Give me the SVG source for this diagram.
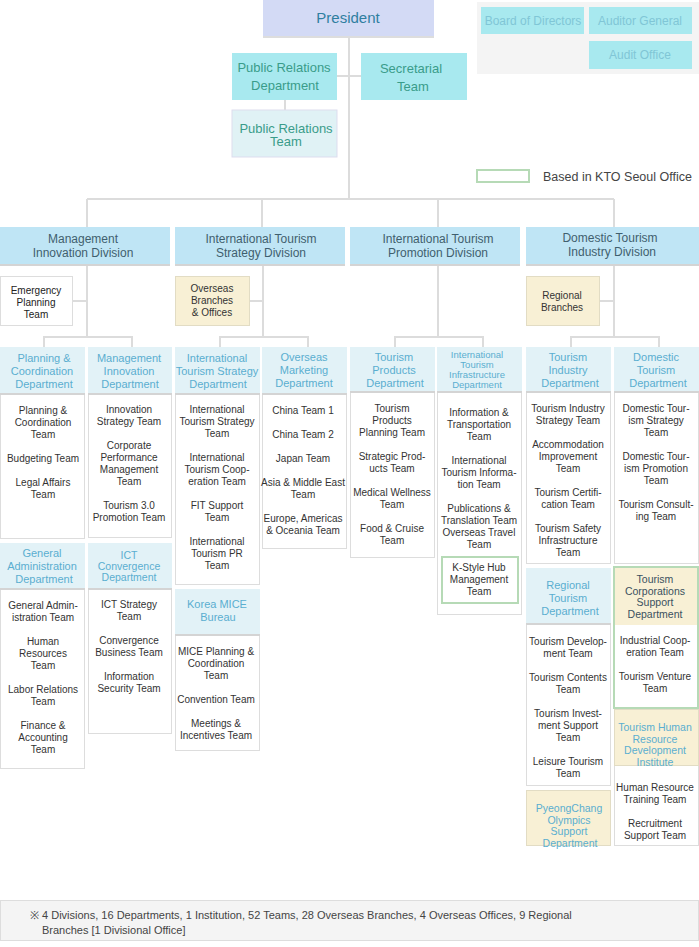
<svg xmlns="http://www.w3.org/2000/svg" width="699" height="947" viewBox="0 0 699 947">
<style>
text{font-family:"Liberation Sans",Arial,sans-serif;text-anchor:middle}
.ln{stroke:#dcdcdc;stroke-width:2;fill:none}
.hd{fill:#e2f2f7}
.bd{fill:#fff;stroke:#ddd;stroke-width:1}
.dv{fill:#bfe5f5}
.ye{fill:#f8f0d5;stroke:#e2dcc4;stroke-width:1}
.ht{font-size:11px;fill:#5aaed0}
.h4{font-size:10.5px;fill:#5aaed0}
.tt{font-size:10px;fill:#333}
.dt{font-size:12px;fill:#3f5f6e}
.cy{fill:#a8e9ef}
.ct{font-size:13px;fill:#3a9c8a}
.bt{font-size:12px;fill:#80c6d6}
.gr{fill:none;stroke:#b6dab6;stroke-width:2}
</style>
<g id="connectors">
<path class="ln" d="M349 37V199M337 76H361M285 100V110M87 199H614M87 199V227M262 199V227M438 199V227M614 199V227M640 34V41"/>
<path class="ln" d="M87 265V336M263 265V336M438 265V336M614 265V336M72 301H87M249 301H263M599 301H614"/>
<path class="ln" d="M44 347V337H132V347M220 347V337H308V347M395 347V337H483V347M571 347V337H659V347"/>
</g>
<g id="president"><rect x="263" y="0" width="171" height="37" fill="#d3daf5"/><rect x="263" y="36" width="171" height="2" fill="#ddd"/><text x="348" y="23" font-size="15" fill="#2f7fa0">President</text></g>
<g id="board-area"><rect x="477" y="2" width="222" height="72" fill="#f4f4f4"/>
<g id="board"><rect x="481" y="7" width="103" height="27" class="cy"/><text x="533" y="25" class="bt">Board of Directors</text></g>
<g id="auditor"><rect x="589" y="7" width="103" height="27" class="cy"/><text x="640" y="25" class="bt">Auditor General</text></g>
<g id="audit-office"><rect x="589" y="41" width="103" height="28" class="cy"/><text x="640" y="59" class="bt">Audit Office</text></g></g>
<g id="pr-dept"><rect x="232" y="53" width="105" height="47" class="cy"/><text x="284" y="72" class="ct">Public Relations</text><text x="285" y="90" class="ct">Department</text></g>
<g id="secretarial"><rect x="361" y="53" width="106" height="47" class="cy"/><text x="411" y="73" class="ct">Secretarial</text><text x="413" y="91" class="ct">Team</text></g>
<g id="pr-team"><rect x="232" y="110" width="105" height="47" fill="#e0f2f5" stroke="#dde" stroke-width="1"/><text x="286" y="133" class="ct">Public Relations</text><text x="286" y="146" class="ct">Team</text></g>
<g id="legend"><rect x="477" y="170" width="52" height="12" class="gr"/><text x="543" y="181" font-size="12.5" fill="#444" style="text-anchor:start">Based in KTO Seoul Office</text></g>

<g id="div1"><rect x="0" y="227" width="170" height="38" class="dv"/><rect x="0" y="264" width="170" height="2" fill="#d4d4d4"/><text x="83" y="243" class="dt">Management</text><text x="83" y="257" class="dt">Innovation Division</text></g>
<g id="div2"><rect x="175" y="227" width="170" height="38" class="dv"/><rect x="175" y="264" width="170" height="2" fill="#d4d4d4"/><text x="261" y="243" class="dt">International Tourism</text><text x="261" y="257" class="dt">Strategy Division</text></g>
<g id="div3"><rect x="350" y="227" width="170" height="38" class="dv"/><rect x="350" y="264" width="170" height="2" fill="#d4d4d4"/><text x="438" y="243" class="dt">International Tourism</text><text x="438" y="257" class="dt">Promotion Division</text></g>
<g id="div4"><rect x="526" y="227" width="173" height="38" class="dv"/><rect x="526" y="264" width="173" height="2" fill="#d4d4d4"/><text x="610" y="242" class="dt">Domestic Tourism</text><text x="612" y="256" class="dt">Industry Division</text></g>

<g id="emergency"><rect x="0.5" y="276.5" width="72" height="49" class="bd"/><text x="36" class="tt" style="fill:#222"><tspan x="36" y="294">Emergency</tspan><tspan x="36" dy="12">Planning</tspan><tspan x="36" dy="12">Team</tspan></text></g>
<g id="overseas-branches"><rect x="175.5" y="276.5" width="74" height="49" class="ye"/><text class="tt"><tspan x="212" y="292">Overseas</tspan><tspan x="212" dy="12">Branches</tspan><tspan x="212" dy="12">&amp; Offices</tspan></text></g>
<g id="regional-branches"><rect x="526.5" y="276.5" width="73" height="49" class="ye"/><text class="tt"><tspan x="562" y="299">Regional</tspan><tspan x="562" dy="12">Branches</tspan></text></g>

<g id="planning-dept"><rect x="0.5" y="394.5" width="84" height="144" class="bd"/><rect x="0" y="347" width="85" height="47" class="hd"/><rect x="0" y="393" width="85" height="2" fill="#d4d4d4"/>
<text class="ht"><tspan x="44" y="362">Planning &amp;</tspan><tspan x="42" dy="13">Coordination</tspan><tspan x="44" dy="13">Department</tspan></text>
<text class="tt"><tspan x="43" y="414">Planning &amp;</tspan><tspan x="43" dy="12">Coordination</tspan><tspan x="43" dy="12">Team</tspan><tspan x="43" dy="24">Budgeting Team</tspan><tspan x="43" dy="24">Legal Affairs</tspan><tspan x="43" dy="12">Team</tspan></text></g>
<g id="general-admin-dept"><rect x="0.5" y="589.5" width="84" height="179" class="bd"/><rect x="0" y="543" width="85" height="46" class="hd"/><rect x="0" y="588" width="85" height="2" fill="#d4d4d4"/>
<text class="ht"><tspan x="42" y="557">General</tspan><tspan x="42" dy="13">Administration</tspan><tspan x="44" dy="13">Department</tspan></text>
<text class="tt"><tspan x="43" y="609">General Admin-</tspan><tspan x="43" dy="12">istration Team</tspan><tspan x="43" dy="24">Human</tspan><tspan x="43" dy="12">Resources</tspan><tspan x="43" dy="12">Team</tspan><tspan x="43" dy="24">Labor Relations</tspan><tspan x="43" dy="12">Team</tspan><tspan x="43" dy="24">Finance &amp;</tspan><tspan x="43" dy="12">Accounting</tspan><tspan x="43" dy="12">Team</tspan></text></g>
<g id="mgmt-innov-dept"><rect x="88.5" y="394.5" width="83" height="143" class="bd"/><rect x="88" y="347" width="84" height="47" class="hd"/><rect x="88" y="393" width="84" height="2" fill="#d4d4d4"/>
<text class="ht"><tspan x="129" y="362">Management</tspan><tspan x="129" dy="13">Innovation</tspan><tspan x="130" dy="13">Department</tspan></text>
<text class="tt"><tspan x="129" y="413">Innovation</tspan><tspan x="129" dy="12">Strategy Team</tspan><tspan x="129" dy="24">Corporate</tspan><tspan x="129" dy="12">Performance</tspan><tspan x="129" dy="12">Management</tspan><tspan x="129" dy="12">Team</tspan><tspan x="129" dy="24">Tourism 3.0</tspan><tspan x="129" dy="12">Promotion Team</tspan></text></g>
<g id="ict-dept"><rect x="88.5" y="589.5" width="83" height="144" class="bd"/><rect x="88" y="543" width="84" height="46" class="hd"/><rect x="88" y="588" width="84" height="2" fill="#d4d4d4"/>
<text class="h4"><tspan x="129" y="559">ICT</tspan><tspan x="129" dy="11">Convergence</tspan><tspan x="129" dy="11">Department</tspan></text>
<text class="tt"><tspan x="129" y="608">ICT Strategy</tspan><tspan x="129" dy="12">Team</tspan><tspan x="129" dy="24">Convergence</tspan><tspan x="129" dy="12">Business Team</tspan><tspan x="129" dy="24">Information</tspan><tspan x="129" dy="12">Security Team</tspan></text></g>
<g id="its-dept"><rect x="175.5" y="394.5" width="84" height="190" class="bd"/><rect x="175" y="347" width="85" height="47" class="hd"/><rect x="175" y="393" width="85" height="2" fill="#d4d4d4"/>
<text class="ht"><tspan x="217" y="362">International</tspan><tspan x="217" dy="13">Tourism Strategy</tspan><tspan x="218" dy="13">Department</tspan></text>
<text class="tt"><tspan x="217" y="413">International</tspan><tspan x="217" dy="12">Tourism Strategy</tspan><tspan x="217" dy="12">Team</tspan><tspan x="217" dy="24">International</tspan><tspan x="217" dy="12">Tourism Coop-</tspan><tspan x="217" dy="12">eration Team</tspan><tspan x="217" dy="24">FIT Support</tspan><tspan x="217" dy="12">Team</tspan><tspan x="217" dy="24">International</tspan><tspan x="217" dy="12">Tourism PR</tspan><tspan x="217" dy="12">Team</tspan></text></g>
<g id="mice-bureau"><rect x="175.5" y="635.5" width="84" height="115" class="bd"/><rect x="175" y="589" width="85" height="46" class="hd"/><rect x="175" y="634" width="85" height="2" fill="#d4d4d4"/>
<text class="ht"><tspan x="217" y="608">Korea MICE</tspan><tspan x="218" dy="13">Bureau</tspan></text>
<text class="tt"><tspan x="216" y="655">MICE Planning &amp;</tspan><tspan x="216" dy="12">Coordination</tspan><tspan x="216" dy="12">Team</tspan><tspan x="216" dy="24">Convention Team</tspan><tspan x="216" dy="24">Meetings &amp;</tspan><tspan x="216" dy="12">Incentives Team</tspan></text></g>
<g id="overseas-mkt-dept"><rect x="262.5" y="394.5" width="84" height="154" class="bd"/><rect x="262" y="347" width="85" height="47" class="hd"/><rect x="262" y="393" width="85" height="2" fill="#d4d4d4"/>
<text class="ht"><tspan x="304" y="361">Overseas</tspan><tspan x="304" dy="13">Marketing</tspan><tspan x="304" dy="13">Department</tspan></text>
<text class="tt"><tspan x="303" y="414">China Team 1</tspan><tspan x="303" dy="24">China Team 2</tspan><tspan x="303" dy="24">Japan Team</tspan><tspan x="303" dy="24">Asia &amp; Middle East</tspan><tspan x="303" dy="12">Team</tspan><tspan x="303" dy="24">Europe, Americas</tspan><tspan x="303" dy="12">&amp; Oceania Team</tspan></text></g>
<g id="tourism-products-dept"><rect x="350.5" y="392.5" width="84" height="165" class="bd"/><rect x="350" y="347" width="85" height="45" class="hd"/><rect x="350" y="391" width="85" height="2" fill="#d4d4d4"/>
<text class="ht"><tspan x="394" y="361">Tourism</tspan><tspan x="394" dy="13">Products</tspan><tspan x="395" dy="13">Department</tspan></text>
<text class="tt"><tspan x="392" y="412">Tourism</tspan><tspan x="392" dy="12">Products</tspan><tspan x="392" dy="12">Planning Team</tspan><tspan x="392" dy="24">Strategic Prod-</tspan><tspan x="392" dy="12">ucts Team</tspan><tspan x="392" dy="24">Medical Wellness</tspan><tspan x="392" dy="12">Team</tspan><tspan x="392" dy="24">Food &amp; Cruise</tspan><tspan x="392" dy="12">Team</tspan></text></g>
<g id="infra-dept"><rect x="437.5" y="392.5" width="84" height="222" class="bd"/><rect x="437" y="347" width="85" height="45" class="hd"/><rect x="437" y="391" width="85" height="2" fill="#d4d4d4"/>
<text style="font-size:9.5px;fill:#5aaed0"><tspan x="477" y="358">International</tspan><tspan x="477" dy="10">Tourism</tspan><tspan x="477" dy="10">Infrastructure</tspan><tspan x="477" dy="10">Department</tspan></text>
<text class="tt"><tspan x="479" y="416">Information &amp;</tspan><tspan x="479" dy="12">Transportation</tspan><tspan x="479" dy="12">Team</tspan><tspan x="479" dy="24">International</tspan><tspan x="479" dy="12">Tourism Informa-</tspan><tspan x="479" dy="12">tion Team</tspan><tspan x="479" dy="24">Publications &amp;</tspan><tspan x="479" dy="12">Translation Team</tspan><tspan x="479" dy="12">Overseas Travel</tspan><tspan x="479" dy="12">Team</tspan></text></g>
<g id="kstyle"><rect x="442" y="557" width="76" height="46" class="gr"/><text class="tt"><tspan x="479" y="571">K-Style Hub</tspan><tspan x="479" dy="12">Management</tspan><tspan x="479" dy="12">Team</tspan></text></g>
<g id="tourism-industry-dept"><rect x="526.5" y="392.5" width="84" height="171" class="bd"/><rect x="526" y="347" width="85" height="45" class="hd"/><rect x="526" y="391" width="85" height="2" fill="#d4d4d4"/>
<text class="ht"><tspan x="568" y="361">Tourism</tspan><tspan x="568" dy="13">Industry</tspan><tspan x="570" dy="13">Department</tspan></text>
<text class="tt"><tspan x="568" y="412">Tourism Industry</tspan><tspan x="568" dy="12">Strategy Team</tspan><tspan x="568" dy="24">Accommodation</tspan><tspan x="568" dy="12">Improvement</tspan><tspan x="568" dy="12">Team</tspan><tspan x="568" dy="24">Tourism Certifi-</tspan><tspan x="568" dy="12">cation Team</tspan><tspan x="568" dy="24">Tourism Safety</tspan><tspan x="568" dy="12">Infrastructure</tspan><tspan x="568" dy="12">Team</tspan></text></g>
<g id="regional-tourism-dept"><rect x="526.5" y="624.5" width="84" height="161" class="bd"/><rect x="526" y="568" width="85" height="56" class="hd"/><rect x="526" y="623" width="85" height="2" fill="#d4d4d4"/>
<text class="ht"><tspan x="568" y="589">Regional</tspan><tspan x="568" dy="13">Tourism</tspan><tspan x="570" dy="13">Department</tspan></text>
<text class="tt"><tspan x="568" y="645">Tourism Develop-</tspan><tspan x="568" dy="12">ment Team</tspan><tspan x="568" dy="24">Tourism Contents</tspan><tspan x="568" dy="12">Team</tspan><tspan x="568" dy="24">Tourism Invest-</tspan><tspan x="568" dy="12">ment Support</tspan><tspan x="568" dy="12">Team</tspan><tspan x="568" dy="24">Leisure Tourism</tspan><tspan x="568" dy="12">Team</tspan></text></g>
<g id="pyeongchang"><rect x="526.5" y="790.5" width="84" height="55" class="ye"/><text class="h4"><tspan x="569" y="812">PyeongChang</tspan><tspan x="569" dy="11.5">Olympics</tspan><tspan x="569" dy="11.5">Support</tspan><tspan x="570" dy="11.5">Department</tspan></text></g>
<g id="domestic-tourism-dept"><rect x="614.5" y="392.5" width="84" height="171" class="bd"/><rect x="614" y="347" width="85" height="45" class="hd"/><rect x="614" y="391" width="85" height="2" fill="#d4d4d4"/>
<text class="ht"><tspan x="656" y="361">Domestic</tspan><tspan x="656" dy="13">Tourism</tspan><tspan x="658" dy="13">Department</tspan></text>
<text class="tt"><tspan x="656" y="412">Domestic Tour-</tspan><tspan x="656" dy="12">ism Strategy</tspan><tspan x="656" dy="12">Team</tspan><tspan x="656" dy="24">Domestic Tour-</tspan><tspan x="656" dy="12">ism Promotion</tspan><tspan x="656" dy="12">Team</tspan><tspan x="656" dy="24">Tourism Consult-</tspan><tspan x="656" dy="12">ing Team</tspan></text></g>
<g id="corporations-dept"><rect x="614" y="567" width="84" height="58" fill="#f8f0d5"/><rect x="614" y="567" width="84" height="141" class="gr"/>
<text style="font-size:10.5px;fill:#3a5060"><tspan x="655" y="583">Tourism</tspan><tspan x="655" dy="11.5">Corporations</tspan><tspan x="655" dy="11.5">Support</tspan><tspan x="655" dy="11.5">Department</tspan></text>
<text class="tt"><tspan x="655" y="644">Industrial Coop-</tspan><tspan x="655" dy="12">eration Team</tspan><tspan x="655" dy="24">Tourism Venture</tspan><tspan x="655" dy="12">Team</tspan></text></g>
<g id="hr-institute"><rect x="614.5" y="765.5" width="84" height="80" class="bd"/><rect x="614.5" y="709.5" width="84" height="56" class="ye"/>
<text class="h4"><tspan x="655" y="731">Tourism Human</tspan><tspan x="655" dy="11.5">Resource</tspan><tspan x="655" dy="11.5">Development</tspan><tspan x="655" dy="11.5">Institute</tspan></text>
<text class="tt"><tspan x="655" y="791">Human Resource</tspan><tspan x="655" dy="12">Training Team</tspan><tspan x="655" dy="24">Recruitment</tspan><tspan x="655" dy="12">Support Team</tspan></text></g>

<g id="footer"><rect x="0.5" y="900.5" width="698" height="40" fill="#f4f4f4" stroke="#ddd"/>
<text font-size="11" fill="#444" style="text-anchor:start"><tspan x="30" y="919">※ 4 Divisions, 16 Departments, 1 Institution, 52 Teams, 28 Overseas Branches, 4 Overseas Offices, 9 Regional</tspan><tspan x="42" y="934">Branches [1 Divisional Office]</tspan></text></g>
</svg>
